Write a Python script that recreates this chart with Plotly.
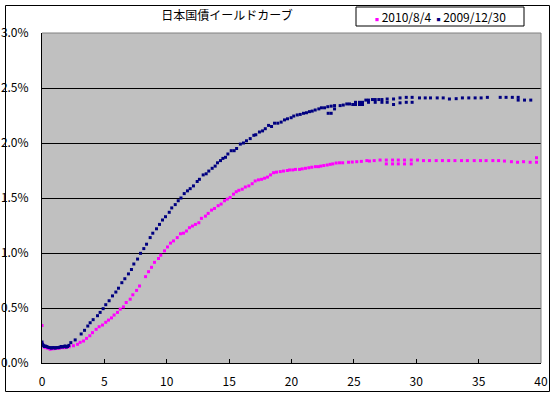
import plotly.graph_objects as go

title_text = "日本国債イールドカーブ"
series_names = ["2010/8/4", "2009/12/30"]
series_colors = ["#FF00FF", "#000080"]

# 2010/8/4 (maturity in years, yield in %)
aug_years = [0.00, 0.00, 0.08, 0.18, 0.30, 0.45, 0.65, 0.80, 0.95, 1.10, 1.25, 1.40, 1.55, 1.70, 1.85, 2.00,
             2.18, 2.52, 2.85, 3.06, 3.33, 3.57, 3.83, 4.05, 4.34, 4.58, 4.85, 5.11, 5.33, 5.57, 5.78, 6.05,
             6.27, 6.53, 6.75, 7.07, 7.28, 7.58, 7.82, 8.30, 8.54, 8.78, 9.02, 9.34, 9.52, 9.82, 10.06, 10.30,
             10.54, 10.84, 11.10, 11.34, 11.58, 11.82, 12.06, 12.30, 12.57, 12.78, 13.10, 13.32, 13.59, 13.83,
             14.12, 14.36, 14.63, 14.85, 15.08, 15.35, 15.57, 15.78, 16.05, 16.30, 16.58, 16.85, 17.09, 17.35,
             17.60, 17.84, 18.08, 18.32, 18.56, 18.80, 19.10, 19.36, 19.66, 19.84, 20.10, 20.32, 20.64, 20.86,
             21.12, 21.39, 21.63, 21.92, 22.16, 22.35, 22.59, 22.86, 23.10, 23.31, 23.58, 23.85, 24.10, 24.57,
             24.87, 25.23, 25.60, 26.04, 26.25, 26.63, 27.10, 27.60, 27.60, 28.10, 28.10, 28.56, 28.56, 29.06,
             29.06, 29.60, 29.60, 30.10, 30.58, 31.06, 31.60, 32.10, 32.60, 33.10, 33.63, 34.10, 34.65, 35.15,
             35.60, 36.14, 36.60, 37.07, 37.63, 38.12, 38.60, 39.13, 39.64, 39.64]
aug_yields = [0.34, 0.18, 0.16, 0.145, 0.14, 0.135, 0.125, 0.13, 0.13, 0.135, 0.135, 0.135, 0.14, 0.14, 0.14, 0.145,
              0.148, 0.157, 0.17, 0.188, 0.20, 0.224, 0.248, 0.276, 0.306, 0.33, 0.345, 0.37, 0.39, 0.41, 0.436, 0.46,
              0.49, 0.51, 0.55, 0.58, 0.62, 0.66, 0.70, 0.785, 0.83, 0.87, 0.915, 0.95, 0.98, 1.02, 1.055, 1.09,
              1.11, 1.14, 1.175, 1.18, 1.20, 1.23, 1.245, 1.26, 1.275, 1.315, 1.335, 1.36, 1.39, 1.405,
              1.43, 1.445, 1.475, 1.49, 1.505, 1.535, 1.557, 1.57, 1.58, 1.60, 1.61, 1.63, 1.655, 1.665,
              1.67, 1.68, 1.69, 1.71, 1.73, 1.735, 1.74, 1.745, 1.75, 1.755, 1.755, 1.76, 1.76, 1.765,
              1.77, 1.775, 1.78, 1.785, 1.785, 1.79, 1.795, 1.80, 1.806, 1.81, 1.818, 1.82, 1.82, 1.825,
              1.827, 1.83, 1.833, 1.84, 1.836, 1.84, 1.845, 1.845, 1.81, 1.845, 1.81, 1.845, 1.81, 1.845,
              1.81, 1.845, 1.81, 1.845, 1.84, 1.84, 1.84, 1.84, 1.84, 1.84, 1.84, 1.84, 1.84, 1.84,
              1.84, 1.84, 1.84, 1.836, 1.83, 1.825, 1.83, 1.825, 1.866, 1.825]

# 2009/12/30 (maturity in years, yield in %)
dec_years = [0.00, 0.05, 0.10, 0.18, 0.25, 0.35, 0.45, 0.55, 0.65, 0.75, 0.85, 0.95, 1.05, 1.15, 1.25, 1.35,
             1.45, 1.55, 1.65, 1.75, 1.85, 1.95, 2.05, 2.15, 2.31, 2.66, 3.14, 3.41, 3.67, 3.86, 4.10, 4.45,
             4.66, 4.90, 5.11, 5.38, 5.65, 5.92, 6.13, 6.40, 6.64, 6.93, 7.17, 7.36, 7.66, 7.90, 8.16, 8.38,
             8.67, 8.88, 9.18, 9.42, 9.66, 9.90, 10.20, 10.40, 10.68, 10.92, 11.14, 11.40, 11.66, 11.88,
             12.14, 12.44, 12.62, 12.92, 13.16, 13.37, 13.64, 13.88, 14.07, 14.31, 14.50, 14.71, 14.90, 15.17,
             15.40, 15.60, 15.90, 16.15, 16.39, 16.69, 16.98, 17.14, 17.43, 17.68, 17.90, 18.16, 18.40, 18.64,
             18.90, 19.17, 19.44, 19.68, 19.97, 20.18, 20.46, 20.70, 20.96, 21.20, 21.44, 21.66, 21.90, 22.19,
             22.40, 22.65, 22.91, 22.94, 23.18, 23.18, 23.45, 23.45, 23.90, 24.15, 24.43, 24.65, 24.91, 25.13,
             25.13, 25.45, 25.45, 25.69, 25.69, 25.96, 26.17, 26.17, 26.49, 26.71, 26.71, 27.00, 27.25, 27.25,
             27.67, 27.67, 28.18, 28.18, 28.70, 28.70, 29.20, 29.20, 29.67, 29.67, 30.26, 30.72, 31.14, 31.68,
             32.16, 32.66, 33.20, 33.70, 34.21, 34.72, 35.20, 35.70, 36.73, 37.20, 37.70, 38.17, 38.17, 38.68,
             39.18]
dec_yields = [0.19, 0.17, 0.16, 0.15, 0.155, 0.15, 0.145, 0.14, 0.14, 0.135, 0.14, 0.14, 0.135, 0.14, 0.14, 0.14,
              0.145, 0.15, 0.145, 0.15, 0.155, 0.145, 0.15, 0.16, 0.185, 0.21, 0.264, 0.297, 0.336, 0.366, 0.394, 0.43,
              0.46, 0.494, 0.53, 0.566, 0.61, 0.645, 0.68, 0.73, 0.766, 0.81, 0.85, 0.90, 0.945, 0.997, 1.04, 1.08,
              1.14, 1.18, 1.22, 1.26, 1.30, 1.33, 1.37, 1.41, 1.44, 1.475, 1.50, 1.54, 1.565, 1.585,
              1.61, 1.65, 1.67, 1.71, 1.72, 1.745, 1.77, 1.79, 1.82, 1.84, 1.86, 1.87, 1.90, 1.93,
              1.93, 1.95, 1.99, 2.00, 2.02, 2.04, 2.07, 2.075, 2.10, 2.11, 2.13, 2.16, 2.15, 2.18,
              2.18, 2.19, 2.21, 2.22, 2.23, 2.245, 2.255, 2.26, 2.27, 2.275, 2.285, 2.29, 2.30, 2.31,
              2.32, 2.32, 2.33, 2.27, 2.27, 2.335, 2.31, 2.34, 2.34, 2.345, 2.355, 2.355, 2.35, 2.37,
              2.35, 2.37, 2.35, 2.37, 2.35, 2.39, 2.39, 2.37, 2.395, 2.395, 2.37, 2.395, 2.395, 2.37,
              2.40, 2.37, 2.40, 2.35, 2.41, 2.365, 2.415, 2.37, 2.415, 2.37, 2.41, 2.41, 2.41, 2.41,
              2.41, 2.40, 2.403, 2.41, 2.41, 2.41, 2.41, 2.415, 2.415, 2.415, 2.415, 2.415, 2.39, 2.39,
              2.39]

x_ticks = [0, 5, 10, 15, 20, 25, 30, 35, 40]
y_ticks = [0.0, 0.5, 1.0, 1.5, 2.0, 2.5, 3.0]

FONT = "MS PGothic, Noto Sans CJK JP, sans-serif"

fig = go.Figure()
for name, color, xs, ys in [(series_names[0], series_colors[0], aug_years, aug_yields),
                            (series_names[1], series_colors[1], dec_years, dec_yields)]:
    fig.add_trace(go.Scatter(x=xs, y=ys, mode="markers", name=name,
                             marker=dict(symbol="square", size=3, color=color, line=dict(width=0)),
                             showlegend=False))

W, H = 555, 397
L, R, T, B = 42, 14, 33, 34
pw, ph = W - L - R, H - T - B

def px(xp):
    return (xp - L) / pw

def py(yp):
    return (H - B - yp) / ph

shapes = [
    # outer chart border
    dict(type="rect", xref="paper", yref="paper", x0=px(5.5), x1=px(549.5), y0=py(391.5), y1=py(5.5),
         line=dict(color="black", width=1), layer="above"),
    # plot area top and right border (gray)
    dict(type="line", xref="paper", yref="paper", x0=0, x1=1, y0=1, y1=1,
         line=dict(color="#808080", width=1), layer="above"),
    dict(type="line", xref="paper", yref="paper", x0=1, x1=1, y0=0, y1=1,
         line=dict(color="#808080", width=1), layer="above"),
    # legend box
    dict(type="rect", xref="paper", yref="paper", x0=px(356), x1=px(524), y0=py(26), y1=py(7),
         line=dict(color="black", width=1), fillcolor="white", layer="above"),
]

legend_html = "  ".join(
    f'<span style="color:{c};font-size:4px">■</span> {n}' for n, c in zip(series_names, series_colors)
)

annotations = [
    dict(xref="paper", yref="paper", x=px(440), y=py(16.5), xanchor="center", yanchor="middle",
         text=legend_html, showarrow=False, font=dict(family=FONT, size=12, color="black")),
]

fig.update_layout(
    width=W, height=H,
    margin=dict(l=L, r=R, t=T, b=B, autoexpand=False),
    paper_bgcolor="white",
    plot_bgcolor="#C0C0C0",
    font=dict(family=FONT, size=12, color="black"),
    title=dict(text=title_text, x=227 / W, xanchor="center", y=1 - 16 / H, yanchor="middle",
               xref="container", yref="container", font=dict(family=FONT, size=12, color="black")),
    shapes=shapes,
    annotations=annotations,
    showlegend=False,
)
fig.update_xaxes(range=[0, 40], tickvals=x_ticks, ticktext=[str(v) for v in x_ticks],
                 showgrid=False, zeroline=False, showline=True, linecolor="black", linewidth=1,
                 ticks="inside", ticklen=4, tickcolor="black", tickwidth=1, automargin=False,
                 ticklabelstandoff=8, tickfont=dict(family=FONT, size=12, color="black"))
fig.update_yaxes(range=[0, 3.0], tickvals=y_ticks, ticktext=[f"{v:.1f}%" for v in y_ticks],
                 showgrid=True, gridcolor="black", gridwidth=1, zeroline=False,
                 showline=True, linecolor="black", linewidth=1, automargin=False,
                 ticks="inside", ticklen=4, tickcolor="black", tickwidth=1,
                 ticklabelstandoff=10, tickfont=dict(family=FONT, size=12, color="black"))

fig.write_html("out.html", config={"displayModeBar": False},
               post_script="document.body.style.margin='0';document.body.style.padding='0';")
